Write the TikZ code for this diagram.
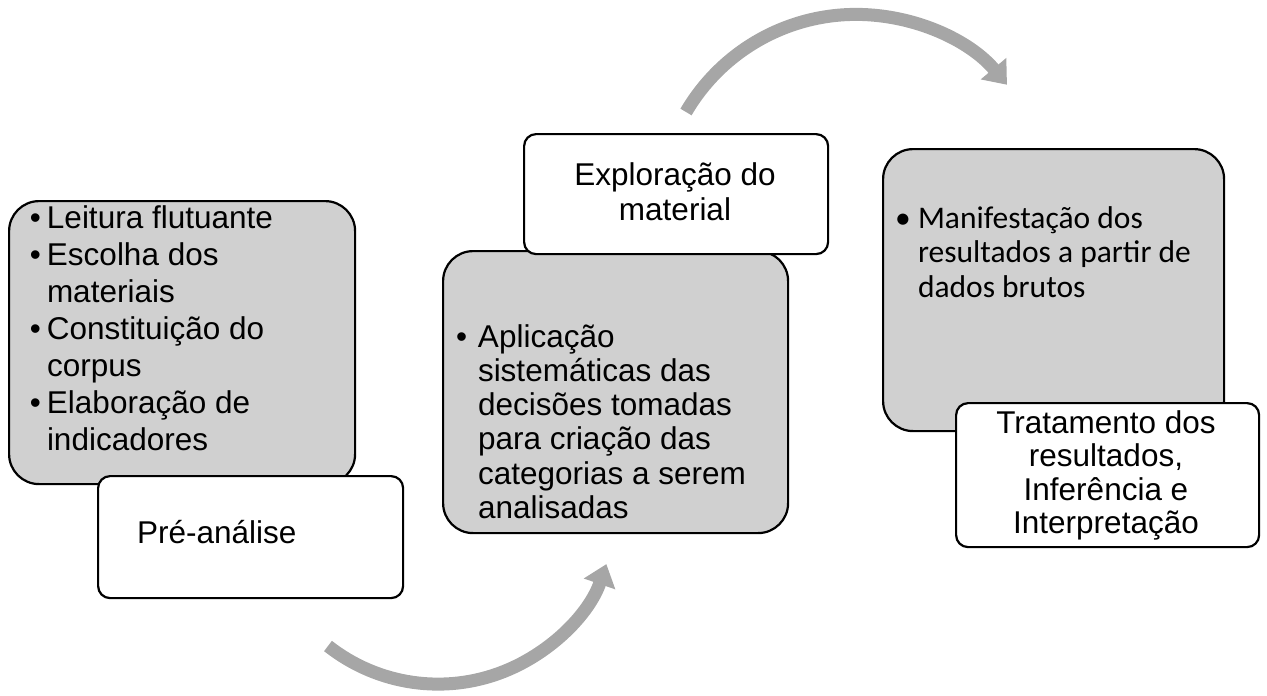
\documentclass[tikz,border=0pt]{standalone}
\usepackage{fontspec}
\setmainfont{Liberation Sans}
\newfontfamily\calibrifont{Carlito}
\usetikzlibrary{arrows.meta}
\definecolor{boxgray}{RGB}{208,208,208}
\definecolor{arrowgray}{RGB}{166,166,166}
\begin{document}
\begin{tikzpicture}[x=1pt,y=-1pt,
  graybox/.style={draw=black, line width=2.2pt, fill=boxgray, rounded corners=30pt, anchor=north west, inner sep=0pt},
  whitebox/.style={draw=black, line width=2.2pt, fill=white, rounded corners=12pt, anchor=north west, inner sep=0pt},
  flowarrow/.style={draw=arrowgray, line width=13pt, -{Triangle[width=32pt,length=21pt]}},
  txt/.style={inner sep=0pt, outer sep=0pt, anchor=base west},
  ctxt/.style={inner sep=0pt, outer sep=0pt, anchor=base}
]
\useasboundingbox (0,0) rectangle (1267,696);
% arrows
\coordinate (a1s) at (328,646);
\draw[flowarrow] (a1s) arc[start angle=128.2, end angle=19, radius=178];
\coordinate (a2s) at (686,112);
\draw[flowarrow] (a2s) arc[start angle=210.3, end angle=320, radius=197];
% boxes
\node[graybox, minimum width=346pt, minimum height=283pt] (g1) at (8,200) {};
\node[whitebox, minimum width=305pt, minimum height=122pt] (w1) at (97,475) {};
\node[graybox, minimum width=345pt, minimum height=282pt] (g2) at (442,250) {};
\node[whitebox, minimum width=304pt, minimum height=120pt] (w2) at (523,133) {};
\node[graybox, minimum width=341pt, minimum height=282pt] (g3) at (882,148) {};
\node[whitebox, minimum width=303pt, minimum height=144pt] (w3) at (955,402) {};
% texts
\node[txt, font=\fontsize{31.5}{37}\selectfont] (t1) at (30,228) {\begin{tabular}[t]{@{}l@{}l@{}}
\makebox[17pt][l]{•} & Leitura flutuante\\
\makebox[17pt][l]{•} & Escolha dos\\
 & materiais\\
\makebox[17pt][l]{•} & Constituição do\\
 & corpus\\
\makebox[17pt][l]{•} & Elaboração de\\
 & indicadores
\end{tabular}};
\node[txt, font=\fontsize{31.5}{35}\selectfont] (t1b) at (137,543) {Pré-análise};
\node[ctxt, font=\fontsize{31.5}{35}\selectfont] (t2b) at (675,185) {\begin{tabular}[t]{@{}c@{}}Exploração do\\ material\end{tabular}};
\node[txt, font=\fontsize{31.5}{34.3}\selectfont] (t2) at (456,347) {\begin{tabular}[t]{@{}l@{}l@{}}
\makebox[22pt][l]{•} & Aplicação\\
 & sistemáticas das\\
 & decisões tomadas\\
 & para criação das\\
 & categorias a serem\\
 & analisadas
\end{tabular}};
\node[txt, font=\calibrifont\fontsize{31.5}{34.5}\selectfont] (t3) at (895,228) {\begin{tabular}[t]{@{}l@{}l@{}}
\makebox[23pt][l]{•} & Manifestação dos\\
 & resultados a partir de\\
 & dados brutos
\end{tabular}};
\node[ctxt, font=\fontsize{31.5}{33.5}\selectfont] (t3b) at (1106,433) {\begin{tabular}[t]{@{}c@{}}Tratamento dos\\ resultados,\\ Inferência e\\ Interpretação\end{tabular}};
\end{tikzpicture}
\end{document}
